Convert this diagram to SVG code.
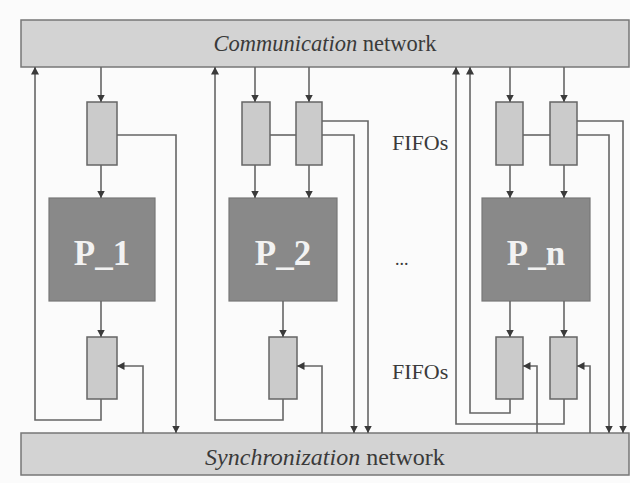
<svg xmlns="http://www.w3.org/2000/svg" width="630" height="483" viewBox="0 0 630 483">
  <defs>
    <marker id="arrow" markerWidth="9" markerHeight="9" refX="7.5" refY="4.5" orient="auto" markerUnits="userSpaceOnUse">
      <path d="M0,0.5 L7.5,4.5 L0,8.5 z" fill="#3a3a3a"/>
    </marker>
  </defs>
  <style>
    .bar { fill: #d3d3d3; stroke: #777; stroke-width: 1.5; }
    .fifo { fill: #cbcbcb; stroke: #666; stroke-width: 1.5; }
    .proc { fill: #898989; stroke: #777; stroke-width: 1.2; }
    .wire { fill: none; stroke: #666; stroke-width: 1.6; }
    .arr { marker-end: url(#arrow); }
    .lbl { font-family: "Liberation Serif", "Times New Roman", serif; fill: #3a3a3a; }
    .plbl { font-family: "Liberation Serif", "Times New Roman", serif; font-weight: bold; font-size: 35px; fill: #f2f2f2; text-anchor: middle; }
  </style>

  <rect width="630" height="483" fill="#fbfbfb"/>

  <!-- networks -->
  <g id="comm-network">
    <rect class="bar" x="21" y="20" width="608" height="47"/>
    <text class="lbl" x="325" y="51" font-size="22.5" text-anchor="middle"><tspan font-style="italic">Communication</tspan> network</text>
  </g>
  <g id="sync-network">
    <rect class="bar" x="21" y="433" width="608" height="42"/>
    <text class="lbl" x="325" y="465" font-size="24" text-anchor="middle"><tspan font-style="italic">Synchronization</tspan> network</text>
  </g>

  <!-- processor 1 -->
  <g id="p1">
    <rect class="fifo" x="87" y="102" width="30" height="63"/>
    <rect class="proc" x="49" y="198" width="106" height="103"/>
    <text class="plbl" x="102" y="265">P_1</text>
    <rect class="fifo" x="87" y="337" width="30" height="62"/>
  </g>

  <!-- processor 2 -->
  <g id="p2">
    <rect class="fifo" x="242" y="102" width="28" height="63"/>
    <rect class="fifo" x="296" y="102" width="26" height="63"/>
    <rect class="proc" x="229" y="198" width="108" height="103"/>
    <text class="plbl" x="283" y="265">P_2</text>
    <rect class="fifo" x="269" y="337" width="28" height="62"/>
  </g>

  <!-- processor n -->
  <g id="pn">
    <rect class="fifo" x="496" y="102" width="27" height="63"/>
    <rect class="fifo" x="550" y="102" width="27" height="63"/>
    <rect class="proc" x="482" y="198" width="108" height="103"/>
    <text class="plbl" x="536" y="265">P_n</text>
    <rect class="fifo" x="496" y="337" width="27" height="62"/>
    <rect class="fifo" x="550" y="337" width="27" height="62"/>
  </g>

  <!-- labels -->
  <g id="labels">
    <text class="lbl" x="392" y="150" font-size="22">FIFOs</text>
    <text class="lbl" x="392" y="379" font-size="22">FIFOs</text>
    <text class="lbl" x="395" y="265" font-size="18">...</text>
  </g>

  <!-- connectors -->
  <g id="connectors">
    <!-- P_1 -->
    <path class="wire arr" d="M101,67 V102"/>
    <path class="wire arr" d="M101,165 V198"/>
    <path class="wire arr" d="M101,301 V337"/>
    <path class="wire arr" d="M117,135 H176 V433"/>
    <path class="wire arr" d="M143,433 V366 H117"/>
    <path class="wire arr" d="M101,399 V420 H35 V67"/>

    <!-- P_2 -->
    <path class="wire arr" d="M255,67 V102"/>
    <path class="wire arr" d="M309,67 V102"/>
    <path class="wire" d="M270,135 H296"/>
    <path class="wire arr" d="M255,165 V198"/>
    <path class="wire arr" d="M309,165 V198"/>
    <path class="wire arr" d="M322,121 H368 V433"/>
    <path class="wire arr" d="M322,135 H354 V433"/>
    <path class="wire arr" d="M283,301 V337"/>
    <path class="wire arr" d="M322,433 V366 H297"/>
    <path class="wire arr" d="M283,399 V420 H215 V67"/>

    <!-- P_n -->
    <path class="wire arr" d="M510,67 V102"/>
    <path class="wire arr" d="M564,67 V102"/>
    <path class="wire" d="M523,135 H550"/>
    <path class="wire arr" d="M510,165 V198"/>
    <path class="wire arr" d="M564,165 V198"/>
    <path class="wire arr" d="M577,121 H623 V433"/>
    <path class="wire arr" d="M577,135 H609 V433"/>
    <path class="wire arr" d="M510,301 V337"/>
    <path class="wire arr" d="M564,301 V337"/>
    <path class="wire arr" d="M537,433 V366 H523"/>
    <path class="wire arr" d="M590,433 V366 H577"/>
    <path class="wire arr" d="M510,399 V413 H470 V67"/>
    <path class="wire arr" d="M564,399 V424 H456 V67"/>
  </g>
</svg>
